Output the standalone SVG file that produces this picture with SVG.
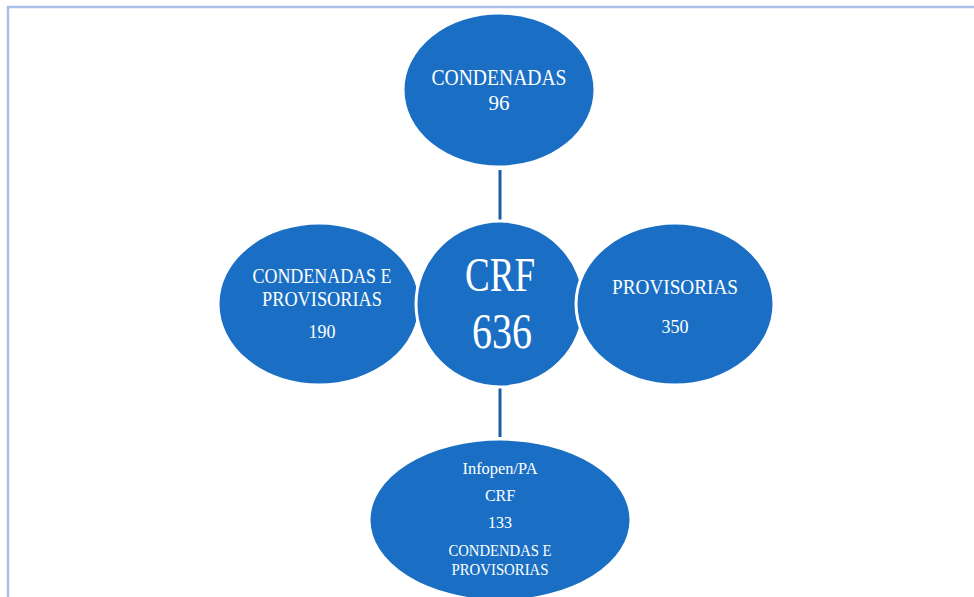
<svg xmlns="http://www.w3.org/2000/svg" width="974" height="597" viewBox="0 0 974 597">
<style>
.n{fill:#1a6fc4;stroke:#ffffff;stroke-width:3}
.t{fill:#ffffff;font-family:"Liberation Serif","DejaVu Serif",serif;text-anchor:middle}
.c{stroke:#1a5fa3;stroke-width:3;fill:none}
</style>
<rect x="0" y="0" width="974" height="597" fill="#ffffff"/>
<path d="M8 597 V7 H974" fill="none" stroke="#aac0ec" stroke-width="2.5"/>
<g id="connectors">
<line class="c" x1="500" y1="170" x2="500" y2="222"/>
<line class="c" x1="500" y1="388" x2="500" y2="437"/>
</g>
<g id="top">
<ellipse class="n" cx="499" cy="90" rx="96" ry="77"/>
<text class="t" x="499" y="85" font-size="23" textLength="135" lengthAdjust="spacingAndGlyphs">CONDENADAS</text>
<text class="t" x="499" y="110" font-size="21">96</text>
</g>
<g id="left">
<ellipse class="n" cx="319" cy="304" rx="101" ry="81"/>
<text class="t" x="322" y="283" font-size="21" textLength="139" lengthAdjust="spacingAndGlyphs">CONDENADAS E</text>
<text class="t" x="322" y="306" font-size="21" textLength="120" lengthAdjust="spacingAndGlyphs">PROVISORIAS</text>
<text class="t" x="322" y="338" font-size="18">190</text>
</g>
<g id="center">
<ellipse class="n" cx="500" cy="304" rx="84" ry="83"/>
<text class="t" x="500" y="291" font-size="49" textLength="70" lengthAdjust="spacingAndGlyphs">CRF</text>
<text class="t" x="502" y="348" font-size="50" textLength="60" lengthAdjust="spacingAndGlyphs">636</text>
</g>
<g id="right">
<ellipse class="n" cx="675" cy="304" rx="99" ry="81"/>
<text class="t" x="675" y="294" font-size="21" textLength="126" lengthAdjust="spacingAndGlyphs">PROVISORIAS</text>
<text class="t" x="675" y="333" font-size="18">350</text>
</g>
<g id="bottom">
<ellipse class="n" cx="500" cy="520" rx="131" ry="81"/>
<text class="t" x="500" y="474" font-size="16" textLength="75" lengthAdjust="spacingAndGlyphs">Infopen/PA</text>
<text class="t" x="500" y="501" font-size="16">CRF</text>
<text class="t" x="500" y="528" font-size="16">133</text>
<text class="t" x="500" y="556" font-size="16" textLength="103" lengthAdjust="spacingAndGlyphs">CONDENDAS E</text>
<text class="t" x="500" y="575" font-size="16" textLength="97" lengthAdjust="spacingAndGlyphs">PROVISORIAS</text>
</g>
</svg>
